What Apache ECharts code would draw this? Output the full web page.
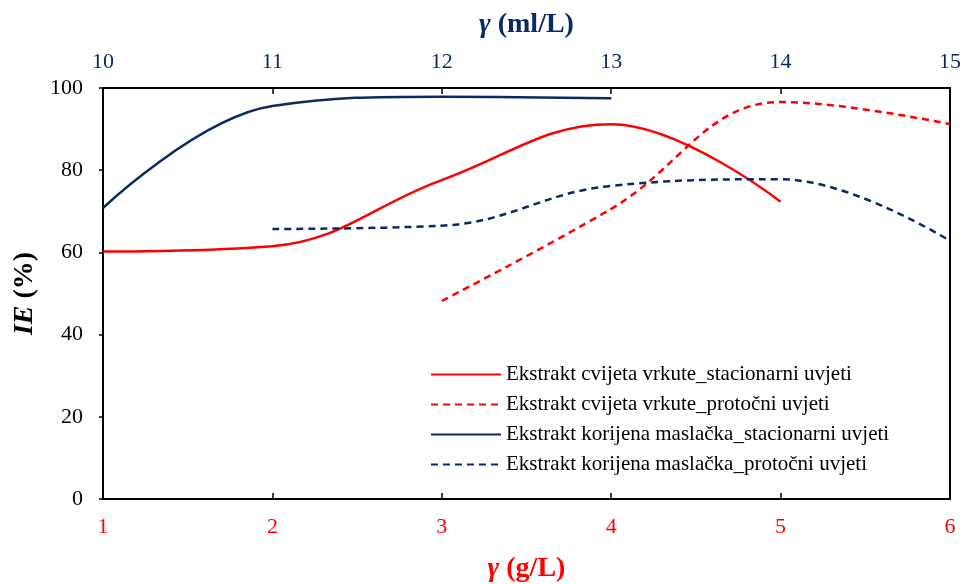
<!DOCTYPE html>
<html>
<head>
<meta charset="utf-8">
<script src="https://cdn.jsdelivr.net/npm/echarts@6/dist/echarts.min.js"></script>
<style>
  html, body { margin: 0; padding: 0; background: #fff; }
  #chart { width: 965px; height: 584px; }
</style>
</head>
<body>
<div id="chart"></div>
<script>
// bottom axis, g/L
var vrkuteX = [1, 2, 3, 4, 5];
var vrkuteStac = [60.2, 61.5, 77.6, 91.2, 72.3];
var vrkuteProtX = [3, 4, 5, 6];
var vrkuteProt = [48.2, 70.6, 96.6, 91.2];
// top axis, ml/L
var maslackaX = [10, 11, 12, 13];
var maslackaStac = [70.8, 95.6, 97.9, 97.5];
var maslackaProtX = [11, 12, 13, 14, 15];
var maslackaProt = [65.7, 66.5, 76.2, 77.8, 62.8];

var names = [
    'Ekstrakt cvijeta vrkute_stacionarni uvjeti',
    'Ekstrakt cvijeta vrkute_protočni uvjeti',
    'Ekstrakt korijena maslačka_stacionarni uvjeti',
    'Ekstrakt korijena maslačka_protočni uvjeti'
];

var RED = '#ff0000';
var NAVY = '#0b2a63';
var FONT = '"Liberation Serif", "Times New Roman", serif';

function pairs(xs, ys) {
    return xs.map(function (x, i) { return [x, ys[i]]; });
}

function axisName(color) {
    return {
        color: color, fontSize: 28, fontWeight: 'bold', fontFamily: FONT,
        rich: { i: { fontStyle: 'italic', fontWeight: 'bold', fontSize: 28, color: color, fontFamily: FONT } }
    };
}

var dom = document.getElementById('chart');
var myChart = echarts.init(dom, null, { renderer: 'canvas' });

var option = {
    animation: false,
    textStyle: { fontFamily: FONT },
    grid: {
        left: 103, right: 15, top: 88, bottom: 85,
        containLabel: false, outerBoundsMode: 'none',
        show: true, borderColor: '#000', borderWidth: 2,
        backgroundColor: 'transparent'
    },
    legend: {
        orient: 'vertical',
        left: 425, top: 359,
        itemWidth: 70, itemHeight: 14, itemGap: 9,
        itemStyle: { opacity: 0 },
        textStyle: { fontFamily: FONT, fontSize: 21, color: '#000' },
        data: names
    },
    xAxis: [{
        type: 'value', position: 'bottom',
        min: 1, max: 6, interval: 1,
        axisLine: { lineStyle: { color: '#000', width: 2 } },
        axisTick: { inside: true, length: 6, lineStyle: { color: '#000', width: 1.5 } },
        axisLabel: { color: RED, fontSize: 22, fontFamily: FONT, margin: 17 },
        splitLine: { show: false },
        name: '{i|γ} (g/L)',
        nameLocation: 'middle', nameGap: 56,
        nameTextStyle: axisName(RED)
    }, {
        type: 'value', position: 'top',
        min: 10, max: 15, interval: 1,
        axisLine: { lineStyle: { color: '#000', width: 2 } },
        axisTick: { inside: true, length: 6, lineStyle: { color: '#000', width: 1.5 } },
        axisLabel: { color: NAVY, fontSize: 22, fontFamily: FONT, margin: 15 },
        splitLine: { show: false },
        name: '{i|γ} (ml/L)',
        nameLocation: 'middle', nameGap: 49,
        nameTextStyle: axisName(NAVY)
    }],
    yAxis: {
        type: 'value', min: 0, max: 100, interval: 20,
        axisLine: { show: true, lineStyle: { color: '#000', width: 2 } },
        axisTick: { show: true, length: 4, lineStyle: { color: '#000', width: 1.5 } },
        axisLabel: { color: '#000', fontSize: 22, fontFamily: FONT, margin: 20 },
        splitLine: { show: false },
        name: '{i|IE} (%)',
        nameLocation: 'middle', nameGap: 64, nameRotate: 90,
        nameTextStyle: axisName('#000')
    },
    series: [{
        name: names[0], type: 'line', xAxisIndex: 0, smooth: 0.4,
        symbol: 'none', color: RED,
        lineStyle: { color: RED, width: 2.5, type: 'solid' },
        data: pairs(vrkuteX, vrkuteStac)
    }, {
        name: names[1], type: 'line', xAxisIndex: 0, smooth: 0.4,
        symbol: 'none', color: RED,
        lineStyle: { color: RED, width: 2.5, type: [7, 5] },
        data: pairs(vrkuteProtX, vrkuteProt)
    }, {
        name: names[2], type: 'line', xAxisIndex: 1, smooth: 0.4,
        symbol: 'none', color: NAVY,
        lineStyle: { color: NAVY, width: 2.5, type: 'solid' },
        data: pairs(maslackaX, maslackaStac)
    }, {
        name: names[3], type: 'line', xAxisIndex: 1, smooth: 0.4,
        symbol: 'none', color: NAVY,
        lineStyle: { color: NAVY, width: 2.5, type: [7, 5] },
        data: pairs(maslackaProtX, maslackaProt)
    }]
};

myChart.setOption(option);
window.addEventListener('resize', myChart.resize);
</script>
</body>
</html>
